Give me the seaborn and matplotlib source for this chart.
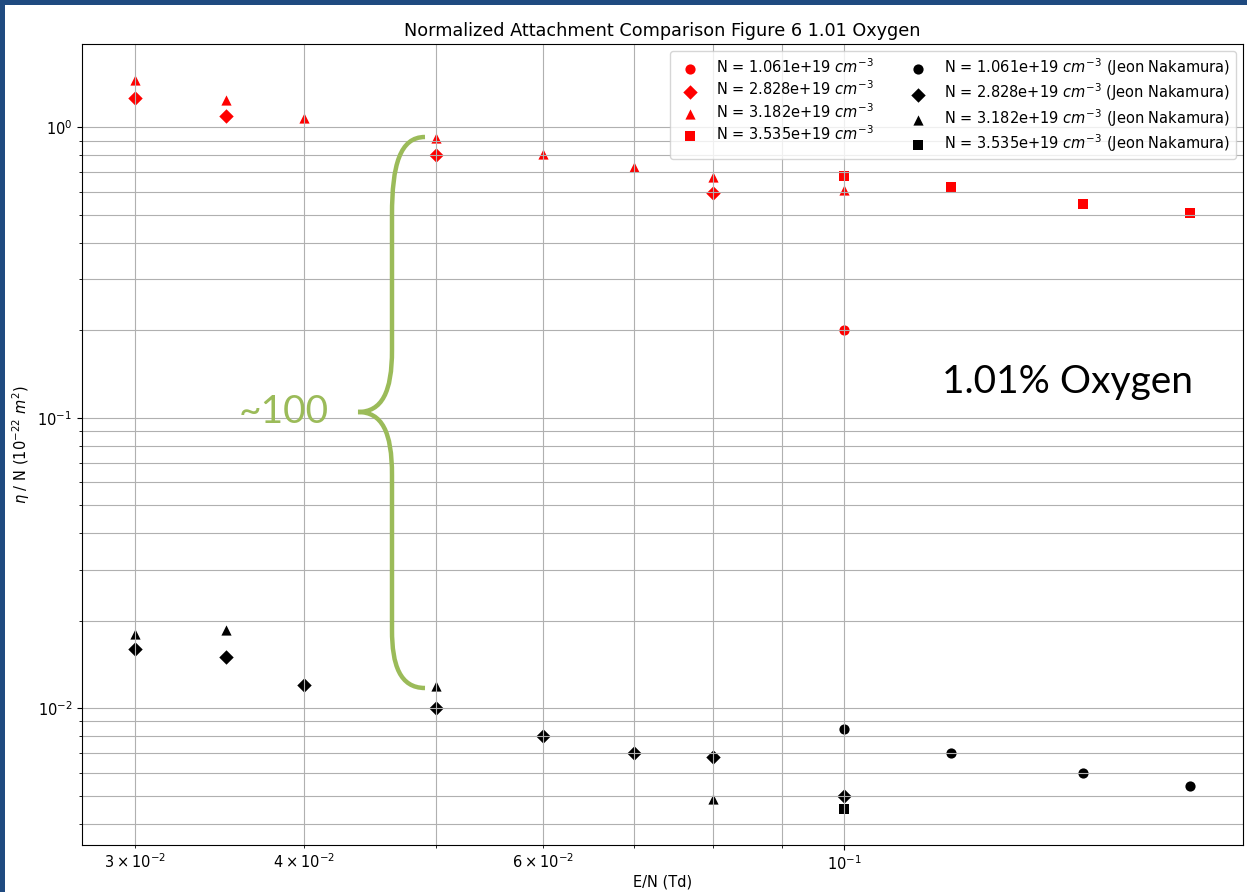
import matplotlib
matplotlib.use("Agg")
import matplotlib.pyplot as plt
import seaborn as sns
from matplotlib.path import Path
from matplotlib.patches import PathPatch, Rectangle
from matplotlib.transforms import Affine2D

# E/N (Td) and normalized attachment eta/N (1e-22 m^2), simulation results
sim_circle_x = [0.1]
sim_circle_y = [0.2]
sim_diamond_x = [0.03, 0.035, 0.05, 0.08]
sim_diamond_y = [1.26, 1.09, 0.80, 0.596]
sim_triangle_x = [0.03, 0.035, 0.04, 0.05, 0.06, 0.07, 0.08, 0.1]
sim_triangle_y = [1.45, 1.24, 1.08, 0.915, 0.807, 0.727, 0.672, 0.606]
sim_square_x = [0.1, 0.12, 0.15, 0.18]
sim_square_y = [0.677, 0.625, 0.546, 0.505]

# Jeon & Nakamura reference values
jn_circle_x = [0.1, 0.12, 0.15, 0.18]
jn_circle_y = [0.00846, 0.0070, 0.0060, 0.00538]
jn_diamond_x = [0.03, 0.035, 0.04, 0.05, 0.06, 0.07, 0.08, 0.1]
jn_diamond_y = [0.0160, 0.0150, 0.0120, 0.0100, 0.0080, 0.0070, 0.00677, 0.0050]
jn_triangle_x = [0.03, 0.035, 0.05, 0.08]
jn_triangle_y = [0.0180, 0.0186, 0.0119, 0.00485]
jn_square_x = [0.1]
jn_square_y = [0.00451]

densities = ["1.061e+19", "2.828e+19", "3.182e+19", "3.535e+19"]
markers = ["o", "D", "^", "s"]

sim_series = [(sim_circle_x, sim_circle_y), (sim_diamond_x, sim_diamond_y),
              (sim_triangle_x, sim_triangle_y), (sim_square_x, sim_square_y)]
jn_series = [(jn_circle_x, jn_circle_y), (jn_diamond_x, jn_diamond_y),
             (jn_triangle_x, jn_triangle_y), (jn_square_x, jn_square_y)]

plt.rcParams["font.size"] = 10.5

W, H = 1247, 892
fig = plt.figure(figsize=(W / 100, H / 100), dpi=100)
ax = fig.add_axes([82 / W, 1 - 845 / H, (1243 - 82) / W, (845 - 44) / H])

for (xs, ys), dens, mk in zip(sim_series, densities, markers):
    sns.scatterplot(x=xs, y=ys, marker=mk, color="red", s=54, linewidth=0,
                    label=rf"N = {dens} $cm^{{-3}}$", ax=ax)
for (xs, ys), dens, mk in zip(jn_series, densities, markers):
    sns.scatterplot(x=xs, y=ys, marker=mk, color="black", s=54, linewidth=0,
                    label=rf"N = {dens} $cm^{{-3}}$ (Jeon Nakamura)", ax=ax)

ax.set_xscale("log")
ax.set_yscale("log")
ax.set_axisbelow("line")
ax.grid(True, which="both")
ax.set_title("Normalized Attachment Comparison Figure 6 1.01 Oxygen", fontsize=12.7)
ax.set_xlabel("E/N (Td)", labelpad=1)
ax.set_ylabel(r"$\eta$ / N ($10^{-22}$ $m^2$)")
ax.legend(loc="upper right", ncol=2, labelspacing=0.25, borderpad=0.35)

# overlay drawn in pixel coordinates of the canvas
px = Affine2D().scale(1 / W, -1 / H).translate(0, 1) + fig.transFigure
green = "#9BBB59"

brace = Path(
    [(425, 137), (400, 137), (392, 165), (392, 215),
     (392, 350),
     (392, 392), (382, 412), (358, 412),
     (382, 412), (392, 432), (392, 475),
     (392, 630),
     (392, 665), (400, 688), (425, 688)],
    [Path.MOVETO, Path.CURVE4, Path.CURVE4, Path.CURVE4,
     Path.LINETO,
     Path.CURVE4, Path.CURVE4, Path.CURVE4,
     Path.CURVE4, Path.CURVE4, Path.CURVE4,
     Path.LINETO,
     Path.CURVE4, Path.CURVE4, Path.CURVE4])
fig.add_artist(PathPatch(brace, fill=False, edgecolor=green, lw=3.2,
                         capstyle="butt", transform=px))
fig.text(284, 412, "~100", transform=px, ha="center", va="center",
         fontsize=28, color=green, family="Lato")
fig.text(1068, 382, "1.01% Oxygen", transform=px, ha="center", va="center",
         fontsize=28, color="black", family="Lato")

# slide frame along the top and left edges
frame_blue = "#1f4a80"
fig.add_artist(Rectangle((0, 0), W, 5, transform=px, color=frame_blue, lw=0))
fig.add_artist(Rectangle((0, 0), 5, H, transform=px, color=frame_blue, lw=0))

fig.savefig("out.png", dpi=100)
